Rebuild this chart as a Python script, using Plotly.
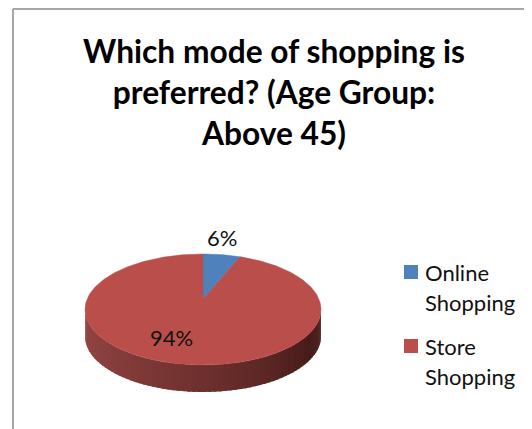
import math
import plotly.graph_objects as go

categories = ["Online Shopping", "Store Shopping"]
shares = [6, 94]
colors = ["#4F81BD", "#BA4E4B"]
title_text = "Which mode of shopping is<br>preferred? (Age Group:<br>Above 45)"

W, H = 532, 429
PAGE_OFFSET = 8  # the page body margin
CX, CY, RX, RY, DEPTH = 203, 309.5, 118, 55.5, 27
APEX_Y = 299
WARP = 0.157
STRIPS = 70

def warp(t):
    return t - WARP * math.sin(t)

def pt(t, dy=0):
    return CX + RX * math.sin(t), CY - RY * math.cos(t) + dy

def mix(t):
    stops = [(0.0, (150, 72, 70)), (0.3, (128, 58, 56)), (0.62, (98, 42, 40)), (0.85, (70, 28, 26)), (1.0, (84, 38, 36))]
    for (a, ca), (b, cb) in zip(stops, stops[1:]):
        if t <= b:
            f = (t - a) / (b - a)
            return "rgb(%d,%d,%d)" % tuple(round(ca[i] + (cb[i] - ca[i]) * f) for i in range(3))
    return "rgb(84,38,36)"

fig = go.Figure()

# cylinder wall under the front edge of the pie; each strip overlaps the next
for i in range(STRIPS):
    a = 1.5 * math.pi - math.pi * i / STRIPS
    b = 1.5 * math.pi - math.pi * min(i + 1.6, STRIPS) / STRIPS
    steps = [a + (b - a) * k / 4 for k in range(5)]
    upper = [pt(s) for s in steps]
    lower = [pt(s, DEPTH) for s in reversed(steps)]
    pts = upper + lower
    c = mix((i + 0.5) / STRIPS)
    fig.add_trace(go.Scatter(x=[p[0] for p in pts], y=[p[1] for p in pts], fill="toself", mode="lines",
                             fillcolor=c, line=dict(color=c, width=0), hoverinfo="skip", showlegend=False))

# top face, slices swept from the values
total = sum(shares)
start = 0.0
for name, share, col in zip(categories, shares, colors):
    sweep = 2 * math.pi * share / total
    n = max(8, int(share * 3))
    ts = [warp(start + sweep * k / n) for k in range(n + 1)]
    arc = [pt(t) for t in ts]
    xs = [CX] + [p[0] for p in arc] + [CX]
    ys = [APEX_Y] + [p[1] for p in arc] + [APEX_Y]
    fig.add_trace(go.Scatter(x=xs, y=ys, fill="toself", mode="lines", fillcolor=col,
                             line=dict(color=col, width=0.5), name=name, hoverinfo="name", showlegend=False))
    start += sweep

frame = dict(color="#A6A6A6", width=2)
shapes = [
    dict(type="line", xref="x", yref="y", x0=13, x1=13, y0=9, y1=H + PAGE_OFFSET, line=frame),
    dict(type="line", xref="x", yref="y", x0=13, x1=W + PAGE_OFFSET, y0=9, y1=9, line=frame),
]
ann = []
label_pos = [(222, 237), (171, 337)]
for share, (x, y) in zip(shares, label_pos):
    ann.append(dict(x=x, y=y, xref="x", yref="y", text=f"{share}%", showarrow=False,
                    font=dict(family="Lato", size=22, color="#111111")))

legend_y = [(272, 302), (346, 376)]
for name, col, (y1, y2) in zip(categories, colors, legend_y):
    shapes.append(dict(type="rect", xref="x", yref="y", x0=404, x1=418, y0=y1 - 7, y1=y1 + 7,
                       fillcolor=col, line=dict(width=0)))
    w1, w2 = name.split(" ")
    for w, y in ((w1, y1), (w2, y2)):
        ann.append(dict(x=423, y=y, xref="x", yref="y", text=w, showarrow=False, xanchor="left",
                        font=dict(family="Lato", size=22, color="#111111")))

fig.update_layout(
    width=W, height=H, margin=dict(l=0, r=0, t=0, b=0), autosize=False,
    paper_bgcolor="white", plot_bgcolor="white", showlegend=False,
    title=dict(text=title_text, x=(274 - PAGE_OFFSET) / W, xanchor="center",
               y=1 - 55 / H, yanchor="top",
               font=dict(family="Lato", size=31.7, color="#000000", weight="bold")),
    xaxis=dict(range=[PAGE_OFFSET, W + PAGE_OFFSET], visible=False, fixedrange=True),
    yaxis=dict(range=[H + PAGE_OFFSET, PAGE_OFFSET], visible=False, fixedrange=True),
    shapes=shapes, annotations=ann,
)
fig.write_html("out.html")
